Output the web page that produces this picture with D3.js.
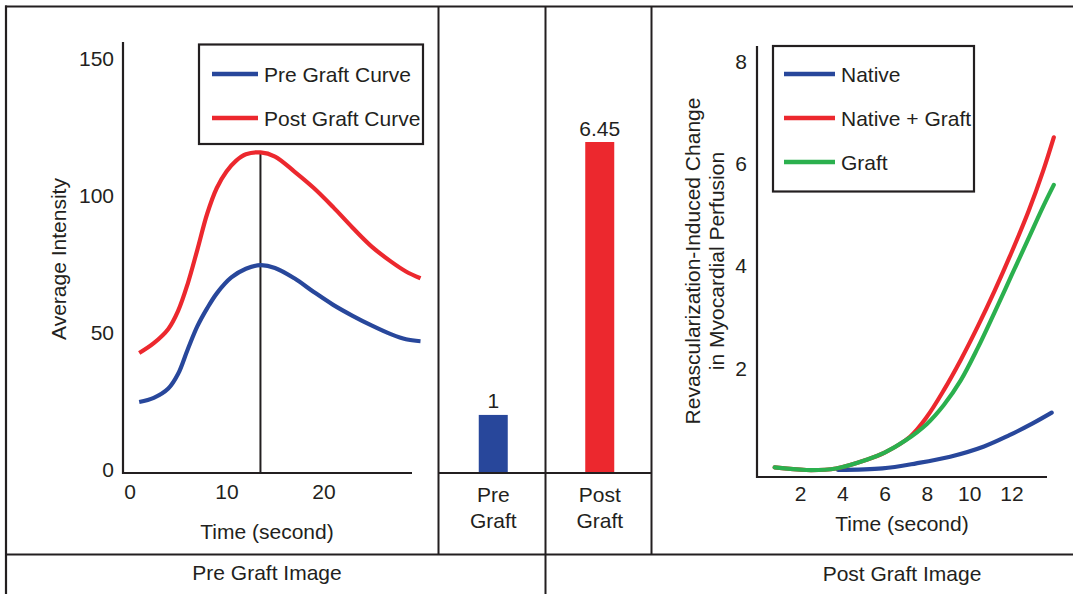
<!DOCTYPE html>
<html>
<head>
<meta charset="utf-8">
<script src="https://cdn.jsdelivr.net/npm/d3@7"></script>
<style>
  body { margin: 0; background: #fff; }
  svg { display: block; }
  text { font-family: "Liberation Sans", Arial, sans-serif; fill: #231f20; }
</style>
</head>
<body>
<svg width="1073" height="594"></svg>
<script>
// ---- data ----
// left panel: average intensity vs time
var preTime   = [1, 2.5, 4, 5, 6, 7, 8, 9, 10.5, 12, 13.5, 15, 17, 19, 21, 23, 25, 27, 28.5, 30];
var preValue  = [24.3, 25.8, 29.2, 34.5, 43.5, 52, 58.5, 64, 69.8, 73, 74.3, 73.3, 69.5, 64.5, 59.8, 55.8, 52.2, 49, 47.2, 46.5];
var postTime  = [1, 2.5, 4, 5, 6, 7, 8, 9, 10, 11, 12, 13.5, 15, 17, 19, 21, 23, 25, 27, 28.5, 30];
var postValue = [42.2, 45.8, 51, 57.5, 67.5, 80, 93, 102.5, 108.5, 112.5, 114.8, 115.5, 114, 108.5, 102.5, 95.5, 88, 81, 75.5, 72, 69.5];
var peakTime = 13.5, peakValue = 115.5;
var leftTicksX = [0, 10, 20];
var leftTicksY = [0, 50, 100, 150];

// middle: relative change bars
var barNames  = [["Pre", "Graft"], ["Post", "Graft"]];
var barValues = [1, 6.45];
var barLabels = ["1", "6.45"];

// right panel: perfusion change vs time
var nativeTime  = [3.8, 5.9, 7.5, 9.1, 10.7, 11.9, 13, 13.9];
var nativeValue = [0, 0.03, 0.13, 0.26, 0.46, 0.68, 0.91, 1.12];
var graftTime   = [0.8, 2.3, 3.7, 5.15, 6, 7, 8, 8.8, 9.6, 10.4, 11.2, 12, 12.8, 13.5, 14];
var graftValue  = [0.05, 0, 0.03, 0.2, 0.34, 0.58, 0.9, 1.27, 1.75, 2.38, 3.08, 3.8, 4.52, 5.15, 5.57];
var bothTime    = [0.8, 2.3, 3.7, 5.15, 6, 7.2, 8, 8.8, 9.6, 10.4, 11.2, 12, 12.8, 13.5, 14];
var bothValue   = [0.05, 0, 0.03, 0.2, 0.34, 0.65, 1.04, 1.56, 2.15, 2.8, 3.5, 4.25, 5.05, 5.85, 6.5];
var rightTicksX = [2, 4, 6, 8, 10, 12];
var rightTicksY = [2, 4, 6, 8];

var BLUE = "#28479b", RED = "#ec282e", GREEN = "#2bb04e", INK = "#231f20";
var FS = "21px";

var svg = d3.select("svg");

function zip(xs, ys) { return xs.map(function(x, i) { return [x, ys[i]]; }); }

function hline(x1, x2, y, w) {
  svg.append("line").attr("x1", x1).attr("x2", x2).attr("y1", y).attr("y2", y)
    .attr("stroke", INK).attr("stroke-width", w || 2);
}
function vline(x, y1, y2, w) {
  svg.append("line").attr("x1", x).attr("x2", x).attr("y1", y1).attr("y2", y2)
    .attr("stroke", INK).attr("stroke-width", w || 2);
}
function label(x, y, s, anchor) {
  return svg.append("text").attr("x", x).attr("y", y).attr("text-anchor", anchor || "middle")
    .attr("dominant-baseline", "central").style("font-size", FS).text(s);
}

// ---- frame ----
hline(5, 1073, 6.5, 2.2);
vline(6, 5.5, 594, 2.2);
vline(438.5, 6, 555);
vline(545.5, 6, 594);
vline(651.5, 6, 555);
hline(5, 1073, 554.5, 2.2);
hline(438, 652, 473);

label(267, 572, "Pre Graft Image");
label(902, 573, "Post Graft Image");

// ---- left chart ----
var xL = d3.scaleLinear().domain([0, 30]).range([129.5, 420.5]);
var yL = d3.scaleLinear().domain([0, 150]).range([468.5, 58]);

vline(123, 42, 474, 2.2);
hline(122, 412, 473, 2.2);

var gxL = svg.append("g").attr("transform", "translate(0,479)")
  .call(d3.axisBottom(xL).tickValues(leftTicksX).tickSize(0).tickPadding(0));
var gyL = svg.append("g").attr("transform", "translate(114,0)")
  .call(d3.axisLeft(yL).tickValues(leftTicksY).tickSize(0).tickPadding(0));
[gxL, gyL].forEach(function(g) {
  g.select(".domain").remove();
  g.selectAll("text").attr("font-family", null).style("font-size", FS).attr("fill", INK);
});
gxL.selectAll("text").attr("dy", null).attr("y", 12).attr("dominant-baseline", "central");
gyL.selectAll("text").attr("dy", null).attr("dominant-baseline", "central");

label(267, 531, "Time (second)");
svg.append("text").attr("transform", "translate(58,259) rotate(-90)").attr("text-anchor", "middle")
  .attr("dominant-baseline", "central").style("font-size", FS).text("Average Intensity");

vline(xL(peakTime), yL(peakValue), 473, 2);

var lineL = d3.line().x(function(d) { return xL(d[0]); }).y(function(d) { return yL(d[1]); })
  .curve(d3.curveCatmullRom.alpha(0.5));
svg.append("path").attr("d", lineL(zip(postTime, postValue))).attr("fill", "none")
  .attr("stroke", RED).attr("stroke-width", 4.2);
svg.append("path").attr("d", lineL(zip(preTime, preValue))).attr("fill", "none")
  .attr("stroke", BLUE).attr("stroke-width", 4.2);

// legend left
svg.append("rect").attr("x", 199).attr("y", 44.5).attr("width", 224).attr("height", 99.5)
  .attr("fill", "#fff").attr("stroke", INK).attr("stroke-width", 2.2);
[["Pre Graft Curve", BLUE, 74], ["Post Graft Curve", RED, 118]].forEach(function(d) {
  svg.append("line").attr("x1", 212).attr("x2", 258).attr("y1", d[2]).attr("y2", d[2])
    .attr("stroke", d[1]).attr("stroke-width", 4.5);
  label(264, d[2], d[0], "start");
});

// ---- middle bars ----
var xB = d3.scaleBand().domain([0, 1]).range([438.5, 651.5]);
var yB = d3.scaleLinear().domain([0, 6.45]).range([465, 142]);
var barW = 29;

barValues.forEach(function(v, i) {
  var cx = xB(i) + xB.bandwidth() / 2 + 1.5;
  svg.append("rect").attr("x", cx - barW / 2).attr("y", yB(v))
    .attr("width", barW).attr("height", 472 - yB(v)).attr("fill", i === 0 ? BLUE : RED);
  label(cx, yB(v) - 14, barLabels[i]);
  barNames[i].forEach(function(s, j) {
    label(cx, 494 + j * 26, s);
  });
});

// ---- right chart ----
var xR = d3.scaleLinear().domain([0, 14]).range([757.7, 1053.8]);
var yR = d3.scaleLinear().domain([0, 8]).range([470, 60.5]);

vline(757, 46, 478, 2.2);
hline(756, 1047, 477, 2.2);

var gxR = svg.append("g").attr("transform", "translate(0,481)")
  .call(d3.axisBottom(xR).tickValues(rightTicksX).tickSize(0).tickPadding(0));
var gyR = svg.append("g").attr("transform", "translate(747,0)")
  .call(d3.axisLeft(yR).tickValues(rightTicksY).tickSize(0).tickPadding(0));
[gxR, gyR].forEach(function(g) {
  g.select(".domain").remove();
  g.selectAll("text").attr("font-family", null).style("font-size", FS).attr("fill", INK);
});
gxR.selectAll("text").attr("dy", null).attr("y", 12).attr("dominant-baseline", "central");
gyR.selectAll("text").attr("dy", null).attr("dominant-baseline", "central");

label(902, 523, "Time (second)");
var ylab = svg.append("text").attr("transform", "translate(0,261) rotate(-90)")
  .attr("text-anchor", "middle").style("font-size", FS);
ylab.append("tspan").attr("x", 0).attr("y", 700).text("Revascularization-Induced Change");
ylab.append("tspan").attr("x", 0).attr("y", 724).text("in Myocardial Perfusion");

var lineR = d3.line().x(function(d) { return xR(d[0]); }).y(function(d) { return yR(d[1]); })
  .curve(d3.curveCatmullRom.alpha(0.5));
[[nativeTime, nativeValue, BLUE], [bothTime, bothValue, RED], [graftTime, graftValue, GREEN]]
  .forEach(function(s) {
    svg.append("path").attr("d", lineR(zip(s[0], s[1]))).attr("fill", "none")
      .attr("stroke", s[2]).attr("stroke-width", 4.2).attr("stroke-linecap", "round");
  });

// legend right
svg.append("rect").attr("x", 773).attr("y", 46).attr("width", 201).attr("height", 145.5)
  .attr("fill", "#fff").attr("stroke", INK).attr("stroke-width", 2.2);
[["Native", BLUE, 74], ["Native + Graft", RED, 118], ["Graft", GREEN, 162]].forEach(function(d) {
  svg.append("line").attr("x1", 784).attr("x2", 835).attr("y1", d[2]).attr("y2", d[2])
    .attr("stroke", d[1]).attr("stroke-width", 4.5);
  label(841, d[2], d[0], "start");
});
</script>
</body>
</html>
